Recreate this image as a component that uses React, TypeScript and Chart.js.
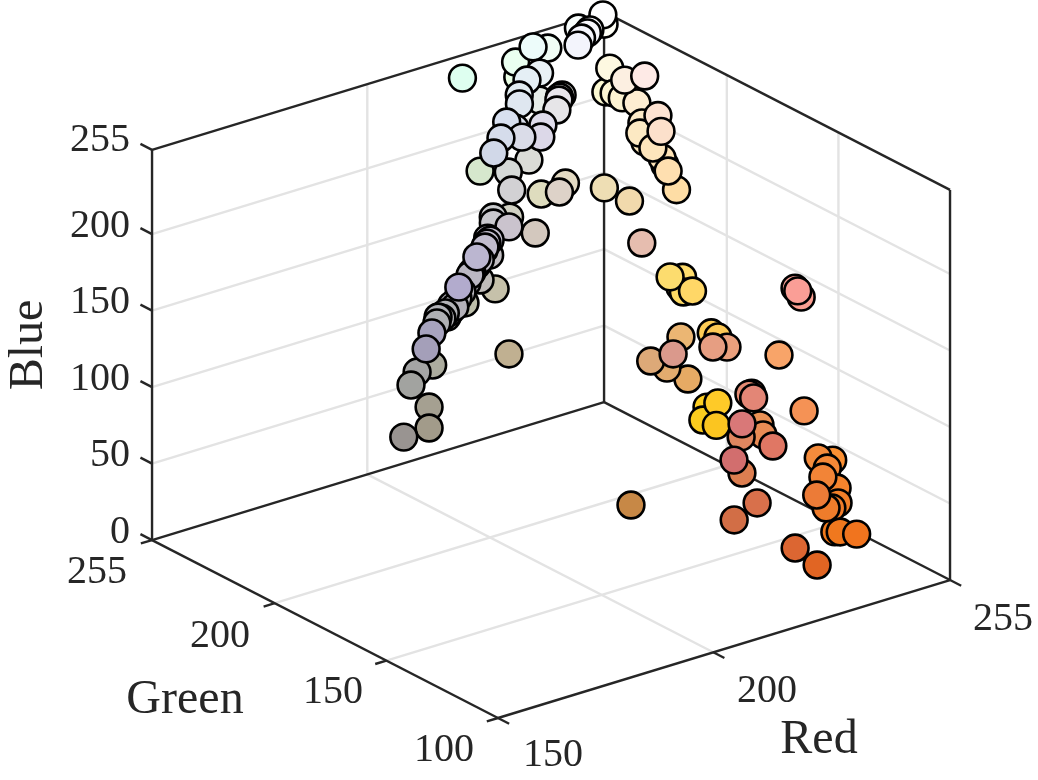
import React, { useEffect, useRef } from "react";
import { Chart, registerables } from "chart.js";

Chart.register(...registerables);

const red = [153,162.3,165.2,162.3,164.7,172,163.9,167.1,191.9,175,176,180.3,180,180,189.1,177.5,197.5,186.9,191.3,190.7,195.4,187.4,192.7,194.1,195.6,210.5,202.4,209.1,201.9,200.7,209.7,222.4,226.9,221.3,237.7,213.5,213,219.4,208.9,212.9,216.1,217.5,217.8,220.3,222.7,223.1,225.6,230.6,235.3,233.5,231.7,230.3,228.8,232.6,234.8,234.4,236.9,240.9,222.1,254,255,248,248.7,247.5,245.2,243.1,252.9,252.1,252.1,252.8,251.7,253.6,253.5,253,252,252.9,251.9,252.3,252.6,253.7,253.9,253.5,254.2,241.1,229.7,252.4,254.4,255,254.4,254.7,250.1,249.7,250.6,234.8,253.4,253.2,234.3,230.1,221.4,226.1,218,230.4,248.3,229.2,228.5,226.8,253.4,251.3,254,250.9,254.6,244.8,216.9,234.4,232,223.9,223.8,209.8,220.3,216.2,210.2,219.8,224.7,244.4,250.2,245,241.8,245.1,243.2,240,238.7,235.8,239.7,239.6,241.4,199.4,177.1,178.2,180.1,183,184,186.4,188,191.4,193.9,195.4];
const green = [148,154.6,160.2,162.7,164.6,171.7,159,162.6,175.9,175.6,177,181.3,179.4,177.2,190.2,170.6,192.9,183.7,187.7,188,191.3,181.6,188.2,190,192.6,200,203.2,208.8,195.2,199.9,209,220.3,218.1,210,221.5,230.5,216.9,220,215.5,220,223.6,219.5,223.1,216.4,220.1,231.4,236.3,236.8,235.8,233.5,230.3,228.5,239,240.7,254.7,254.9,251.9,253,255,253.6,255,253,249.2,248,246.2,243.7,248.4,248.6,244.9,242.6,239.4,234.1,237.4,227,223.7,234,233,231.5,228.5,226.5,225.6,223.4,221,216.8,189.3,220.4,218.3,219.8,219.9,214.8,160,158,158.2,181.6,203.9,200.5,160,158.2,169.3,171.1,152.7,170,163.7,139.1,139,133.6,205.8,203.6,202.1,196.8,206.8,145.7,119.7,145.4,139.4,133.6,119.2,109.6,126.3,111.6,110.3,101.5,101.1,138.6,143.3,135.7,131.5,131.5,127.4,124,124.1,122.7,122.1,119.5,115.6,135.7,177.4,178,178.8,181.6,181.7,184.1,185,187.8,190.9,191.1];
const blue = [145,138,145,160,165,158,185,190,145,180,182,175,180,185,170,205,170,195,185,195,195,208,205,205,205,190,205,195,205,205,212,190,195,200,180,205,215,215,232,235,240,232,235,232,235,240,240,232,232,234,236,232,245,245,230,240,250,245,240,255,247,252,253,253,253,252,225,210,212,210,225,230,210,210,203,200,195,190,188,182,178,176,165,172,175,110,100,108,102,103,150,150,145,115,85,85,125,130,120,110,140,100,105,115,115,118,35,30,40,32,30,85,120,85,85,95,100,110,80,75,70,50,35,60,50,55,55,45,40,42,43,55,28,30,30,70,180,182,185,185,188,190,195,198,200,205];

const redTicks = [150, 200, 255];
const greenTicks = [100, 150, 200, 255];
const blueTicks = [0, 50, 100, 150, 200, 255];
const redGrid = [200];
const greenGrid = [150, 200];
const blueGrid = [50, 100, 150, 200];
const R0 = 150, R1 = 255, G0 = 100, G1 = 255, B0 = 0, B1 = 255;

// Orthographic view of the RGB box on a flat pair of linear scales.
const project = (r: number, g: number, b: number) => ({
  x: 498 + (r - R0) * 4.305 - (g - G0) * 2.232,
  y: 718 - (r - R0) * 1.314 - (g - G0) * 1.148 - b * 1.53,
});
const nearness = (r: number, g: number, b: number) => -3.04 * r - 2.66 * g + 0.66 * b;

const INK = "#262626";
const GRID = "#e3e3e3";

type Seg = [number, number, number, number, number, number];
const segment = (s: Seg, color: string, order: number) => ({
  type: "scatter" as const,
  data: [project(s[0], s[1], s[2]), project(s[3], s[4], s[5])],
  showLine: true,
  borderColor: color,
  borderWidth: 2.4,
  pointRadius: 0,
  pointHoverRadius: 0,
  order,
});

const gridSegs: Seg[] = [
  ...redGrid.map((r): Seg => [r, G0, B0, r, G1, B0]),
  ...redGrid.map((r): Seg => [r, G1, B0, r, G1, B1]),
  ...greenGrid.map((g): Seg => [R0, g, B0, R1, g, B0]),
  ...greenGrid.map((g): Seg => [R1, g, B0, R1, g, B1]),
  ...blueGrid.map((b): Seg => [R0, G1, b, R1, G1, b]),
  ...blueGrid.map((b): Seg => [R1, G1, b, R1, G0, b]),
];
const boxSegs: Seg[] = [
  [R0, G1, B0, R0, G0, B0],
  [R0, G0, B0, R1, G0, B0],
  [R0, G1, B0, R1, G1, B0],
  [R1, G1, B0, R1, G0, B0],
  [R1, G1, B0, R1, G1, B1],
  [R0, G1, B0, R0, G1, B1],
  [R1, G0, B0, R1, G0, B1],
  [R0, G1, B1, R1, G1, B1],
  [R1, G1, B1, R1, G0, B1],
  ...blueTicks.map((b): Seg => [R0, G1, b, R0, G1 + 5.2, b]),
  ...greenTicks.map((g): Seg => [R0, g, B0, R0 - 2.6, g, B0]),
  ...redTicks.map((r): Seg => [r, G0, B0, r, G0 - 5, B0]),
];

const sorted = red
  .map((_, i) => i)
  .sort((a, b) => nearness(red[a], green[a], blue[a]) - nearness(red[b], green[b], blue[b]));
const pts = sorted.map((i) => project(red[i], green[i], blue[i]));
const fills = sorted.map(
  (i) => `rgb(${Math.min(255, Math.round(red[i]))},${Math.min(255, Math.round(green[i]))},${Math.min(255, Math.round(blue[i]))})`
);

const SERIF = '"Liberation Serif", "DejaVu Serif", serif';
const tickFont = `40px ${SERIF}`;
const titleFont = `48px ${SERIF}`;

const blueTickY = [532, 455, 379, 302, 226, 140];
const greenTickPos = [[444, 750], [333, 692], [220, 636], [97, 572]];
const redTickPos = [[553, 755], [767, 691], [1003, 619]];

const textPlugin = {
  id: "axisText",
  afterDraw(chart: any) {
    const c = chart.ctx as CanvasRenderingContext2D;
    c.save();
    c.fillStyle = INK;
    c.textBaseline = "middle";
    c.font = tickFont;
    c.textAlign = "right";
    blueTicks.forEach((t, i) => c.fillText(String(t), 130, blueTickY[i]));
    c.textAlign = "center";
    greenTicks.forEach((t, i) => c.fillText(String(t), greenTickPos[i][0], greenTickPos[i][1]));
    redTicks.forEach((t, i) => c.fillText(String(t), redTickPos[i][0], redTickPos[i][1]));
    c.font = titleFont;
    c.fillText("Red", 819, 740);
    c.fillText("Green", 185, 700);
    c.translate(29, 345);
    c.rotate(-Math.PI / 2);
    c.fillText("Blue", 0, 0);
    c.restore();
  },
};

export default function App() {
  const ref = useRef<HTMLCanvasElement | null>(null);
  useEffect(() => {
    if (!ref.current) return;
    const chart = new Chart(ref.current, {
      type: "scatter",
      data: {
        datasets: [
          ...gridSegs.map((s) => segment(s, GRID, 3)),
          ...boxSegs.map((s) => segment(s, INK, 2)),
          {
            type: "scatter" as const,
            data: pts,
            pointRadius: 13.4,
            pointHoverRadius: 13.4,
            pointBorderWidth: 2.6,
            pointBorderColor: "#000000",
            pointBackgroundColor: fills,
            showLine: false,
            clip: false,
            order: 1,
          },
        ],
      } as any,
      options: {
        animation: false,
        responsive: false,
        maintainAspectRatio: false,
        events: [],
        layout: { padding: 0, autoPadding: false },
        plugins: { legend: { display: false }, tooltip: { enabled: false }, title: { display: false } },
        scales: {
          x: { type: "linear", min: 0, max: 1038, display: false },
          y: { type: "linear", min: 0, max: 780, reverse: true, display: false },
        },
      },
      plugins: [textPlugin as any],
    });
    return () => chart.destroy();
  }, []);
  return (
    <div style={{ position: "absolute", left: 0, top: 0, width: 1038, height: 780, background: "#ffffff" }}>
      <canvas ref={ref} width={1038} height={780} style={{ display: "block", width: 1038, height: 780 }} />
    </div>
  );
}
